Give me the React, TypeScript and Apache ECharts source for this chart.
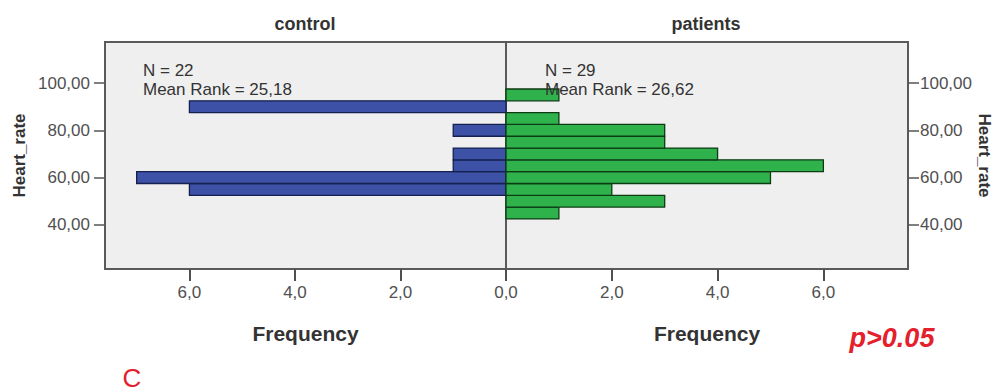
import React, { useEffect, useRef } from "react";
import * as echarts from "echarts";

// Heart-rate histogram bins (edges) and frequencies per group
const binEdges = [42.5, 47.5, 52.5, 57.5, 62.5, 67.5, 72.5, 77.5, 82.5, 87.5, 92.5, 97.5];
const controlCounts = [0, 0, 6, 7, 1, 1, 0, 1, 0, 6, 0];
const patientCounts = [1, 3, 2, 5, 6, 4, 3, 3, 1, 0, 1];
const heartRateTicks = [40, 60, 80, 100];
const frequencyStep = 2;
const groupTitles = ["control", "patients"];
const groupN = [22, 29];
const meanRanks = ["25,18", "26,62"];
const pText = "p>0.05";
const panelLetter = "C";

const FONT = "'Liberation Sans', Arial, sans-serif";
const BLUE = "#3D51A7";
const BLUE_EDGE = "#15204F";
const GREEN = "#2FB24B";
const GREEN_EDGE = "#0C3B14";

const toRows = (counts: number[]) =>
  counts.map((c, i) => [binEdges[i], binEdges[i + 1], c]);

const barRenderer = (fill: string, stroke: string) => (_params: any, api: any) => {
  const lo = api.value(0);
  const hi = api.value(1);
  const n = api.value(2);
  if (!n) return null;
  const a = api.coord([0, hi]);
  const b = api.coord([n, lo]);
  return {
    type: "rect",
    shape: {
      x: Math.min(a[0], b[0]),
      y: Math.min(a[1], b[1]),
      width: Math.abs(b[0] - a[0]),
      height: Math.abs(b[1] - a[1]),
    },
    style: { fill, stroke, lineWidth: 1.3 },
  };
};

const commaFmt = (digits: number) => (v: number) => v.toFixed(digits).replace(".", ",");

export default function App() {
  const ref = useRef<HTMLDivElement>(null);

  useEffect(() => {
    if (!ref.current) return;
    const chart = echarts.init(ref.current, undefined, { renderer: "svg" });

    const yMin = 21.3;
    const yMax = 117.4;
    const xMax = 7.6;

    const gridBase = {
      show: true,
      backgroundColor: "#EFEFEF",
      borderColor: "#5A5A5A",
      borderWidth: 2,
      top: 42,
      bottom: 123,
    };

    const xAxisBase = (gridIndex: number, inverse: boolean, showZero: boolean) => ({
      type: "value",
      gridIndex,
      position: "bottom",
      min: 0,
      max: xMax,
      interval: frequencyStep,
      inverse,
      name: "Frequency",
      nameLocation: "middle",
      nameGap: 54,
      nameTextStyle: { fontFamily: FONT, fontSize: 21, fontWeight: "bold", color: "#333" },
      axisLine: { show: true, onZero: false, lineStyle: { color: "#5A5A5A", width: 2 } },
      axisTick: {
        show: true,
        inside: false,
        length: 12,
        lineStyle: { color: "#4F4F4F", width: 2 },
      },
      axisLabel: {
        showMinLabel: showZero,
        showMaxLabel: false,
        formatter: commaFmt(1),
        margin: 15,
        fontFamily: FONT,
        fontSize: 17,
        color: "#505050",
      },
      splitLine: { show: false },
      z: 10,
    });

    const yAxisBase = (gridIndex: number, position: string, nameGap: number, nameRotate: number, margin: number) => ({
      type: "value",
      gridIndex,
      position,
      min: yMin,
      max: yMax,
      name: "Heart_rate",
      nameLocation: "middle",
      nameGap,
      nameRotate,
      nameTextStyle: { fontFamily: FONT, fontSize: 17, fontWeight: "bold", color: "#333" },
      axisLine: { show: true, onZero: false, lineStyle: { color: "#5A5A5A", width: 2 } },
      axisTick: {
        show: true,
        length: 11,
        customValues: heartRateTicks,
        lineStyle: { color: "#555", width: 1.5 },
      },
      axisLabel: {
        customValues: heartRateTicks,
        formatter: commaFmt(2),
        margin,
        fontFamily: FONT,
        fontSize: 17,
        color: "#505050",
      },
      splitLine: { show: false },
    });

    const graphic: any[] = [];
    const titleX = [305, 706];
    const noteX = [143, 545];
    for (let i = 0; i < 2; i++) {
      graphic.push({
        type: "text",
        x: titleX[i],
        y: 24,
        z: 100,
        style: {
          text: groupTitles[i],
          font: `bold 18px ${FONT}`,
          fill: "#333",
          align: "center",
          verticalAlign: "middle",
        },
      });
      graphic.push({
        type: "text",
        x: noteX[i],
        y: 70,
        z: 100,
        style: {
          text: `N = ${groupN[i]}`,
          font: `17px ${FONT}`,
          fill: "#333",
          align: "left",
          verticalAlign: "middle",
        },
      });
      graphic.push({
        type: "text",
        x: noteX[i],
        y: 89,
        z: 100,
        style: {
          text: `Mean Rank = ${meanRanks[i]}`,
          font: `17px ${FONT}`,
          fill: "#333",
          align: "left",
          verticalAlign: "middle",
        },
      });
    }
    graphic.push({
      type: "text",
      x: 892,
      y: 338,
      z: 100,
      style: {
        text: pText,
        font: `italic bold 27px ${FONT}`,
        fill: "#E3202C",
        align: "center",
        verticalAlign: "middle",
      },
    });
    graphic.push({
      type: "text",
      x: 132,
      y: 378,
      z: 100,
      style: {
        text: panelLetter,
        font: `26px ${FONT}`,
        fill: "#E3202C",
        align: "center",
        verticalAlign: "middle",
      },
    });

    chart.setOption({
      animation: false,
      backgroundColor: "#FFFFFF",
      grid: [
        { ...gridBase, left: 105, right: 490 },
        { ...gridBase, left: 506, right: 88 },
      ],
      xAxis: [xAxisBase(0, true, false), xAxisBase(1, false, true)],
      yAxis: [
        yAxisBase(0, "left", 77, 90, 15),
        yAxisBase(1, "right", 67, -90, 12),
      ],
      series: [
        {
          type: "custom",
          name: "control",
          xAxisIndex: 0,
          yAxisIndex: 0,
          renderItem: barRenderer(BLUE, BLUE_EDGE),
          encode: { x: 2, y: [0, 1] },
          data: toRows(controlCounts),
        },
        {
          type: "custom",
          name: "patients",
          xAxisIndex: 1,
          yAxisIndex: 1,
          renderItem: barRenderer(GREEN, GREEN_EDGE),
          encode: { x: 2, y: [0, 1] },
          data: toRows(patientCounts),
        },
      ],
      graphic,
    });

    return () => chart.dispose();
  }, []);

  return (
    <div
      ref={ref}
      style={{ position: "absolute", left: 0, top: 0, width: 996, height: 392, background: "#fff" }}
    />
  );
}
